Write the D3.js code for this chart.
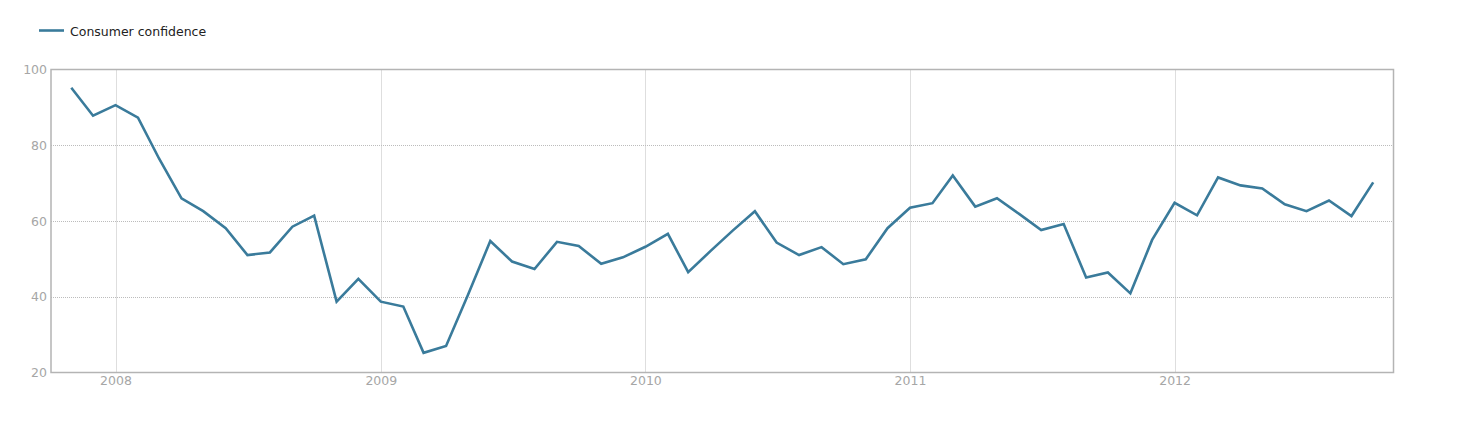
<!DOCTYPE html>
<html>
<head>
<meta charset="utf-8">
<script src="https://cdn.jsdelivr.net/npm/d3@7/dist/d3.min.js"></script>
<style>
html,body{margin:0;padding:0;background:#fff;}
svg{display:block;}
text{font-family:"DejaVu Sans",Verdana,sans-serif;}
</style>
</head>
<body>
<svg id="chart" width="1462" height="430"></svg>
<script>
const seriesName = "Consumer confidence";
const months = [
  "2007-11","2007-12",
  "2008-01","2008-02","2008-03","2008-04","2008-05","2008-06","2008-07","2008-08","2008-09","2008-10","2008-11","2008-12",
  "2009-01","2009-02","2009-03","2009-04","2009-05","2009-06","2009-07","2009-08","2009-09","2009-10","2009-11","2009-12",
  "2010-01","2010-02","2010-03","2010-04","2010-05","2010-06","2010-07","2010-08","2010-09","2010-10","2010-11","2010-12",
  "2011-01","2011-02","2011-03","2011-04","2011-05","2011-06","2011-07","2011-08","2011-09","2011-10","2011-11","2011-12",
  "2012-01","2012-02","2012-03","2012-04","2012-05","2012-06","2012-07","2012-08","2012-09","2012-10"
];
const values = [
  95.2, 87.8,
  90.6, 87.3, 76.5, 66.0, 62.6, 58.1, 51.0, 51.7, 58.5, 61.4, 38.7, 44.7,
  38.7, 37.4, 25.2, 27.0, 40.4, 54.7, 49.3, 47.3, 54.5, 53.4, 48.7, 50.4,
  53.2, 56.6, 46.5, 52.1, 57.4, 62.6, 54.3, 51.0, 53.1, 48.6, 49.9, 58.1,
  63.5, 64.7, 72.0, 63.8, 66.0, 61.8, 57.6, 59.2, 45.1, 46.4, 40.9, 55.0,
  64.8, 61.5, 71.5, 69.4, 68.6, 64.4, 62.6, 65.4, 61.3, 70.2
];
const yTicks = [20, 40, 60, 80, 100];
const xTickYears = ["2008","2009","2010","2011","2012"];
const xDomain = ["2007-10-04","2012-10-29"];

const parse = d3.timeParse("%Y-%m");
const parseDay = d3.timeParse("%Y-%m-%d");
const data = months.map((m,i)=>({date:parse(m), value:values[i]}));

const svg = d3.select("#chart");
const L = 51, R = 1393.5, T = 69.5, B = 372.5;

const x = d3.scaleTime().domain(xDomain.map(parseDay)).range([L, R]);
const y = d3.scaleLinear().domain([20, 100]).range([B, T]);
const xTicks = xTickYears.map(yr => d3.timeParse("%Y")(yr));

// grid
const grid = svg.append("g");
grid.selectAll("line.h").data(yTicks.filter(v=>v>20 && v<100)).join("line")
  .attr("x1", L).attr("x2", R)
  .attr("y1", d=>Math.round(y(d))+0.5).attr("y2", d=>Math.round(y(d))+0.5)
  .attr("stroke","#bcbcbc").attr("stroke-width",1).attr("stroke-dasharray","1,1");
grid.selectAll("line.v").data(xTicks).join("line")
  .attr("y1", T).attr("y2", B)
  .attr("x1", d=>Math.round(x(d))+0.5).attr("x2", d=>Math.round(x(d))+0.5)
  .attr("stroke","#bcbcbc").attr("stroke-width",1).attr("stroke-dasharray","1,1");

// frame
svg.append("rect").attr("x", L).attr("y", T).attr("width", R-L).attr("height", B-T)
  .attr("fill","none").attr("stroke","#b4b4b4").attr("stroke-width",1.5);

// axes
const yAxis = d3.axisLeft(y).tickValues(yTicks).tickSize(0).tickPadding(4);
const ya = svg.append("g").attr("transform",`translate(${L},0)`).call(yAxis);
ya.select(".domain").remove();
ya.selectAll("text").attr("fill","#a6a6a6").style("font-size","12.5px").style("font-family","'DejaVu Sans',Verdana,sans-serif");

const xAxis = d3.axisBottom(x).tickValues(xTicks).tickSize(0).tickPadding(4).tickFormat(d3.timeFormat("%Y"));
const xa = svg.append("g").attr("transform",`translate(0,${B})`).call(xAxis);
xa.select(".domain").remove();
xa.selectAll("text").attr("fill","#a6a6a6").style("font-size","12.5px").style("font-family","'DejaVu Sans',Verdana,sans-serif");

// line
const line = d3.line().x(d=>x(d.date)).y(d=>y(d.value));
svg.append("path").datum(data).attr("d", line)
  .attr("fill","none").attr("stroke","#3a7b9b").attr("stroke-width",2.6)
  .attr("stroke-linejoin","miter").attr("stroke-linecap","butt");

// legend
const lg = svg.append("g");
lg.append("line").attr("x1",39).attr("x2",64).attr("y1",30.5).attr("y2",30.5)
  .attr("stroke","#3a7b9b").attr("stroke-width",2.6);
lg.append("text").attr("x",70).attr("y",35.5).text(seriesName)
  .attr("fill","#222").style("font-size","12.5px");
</script>
</body>
</html>
